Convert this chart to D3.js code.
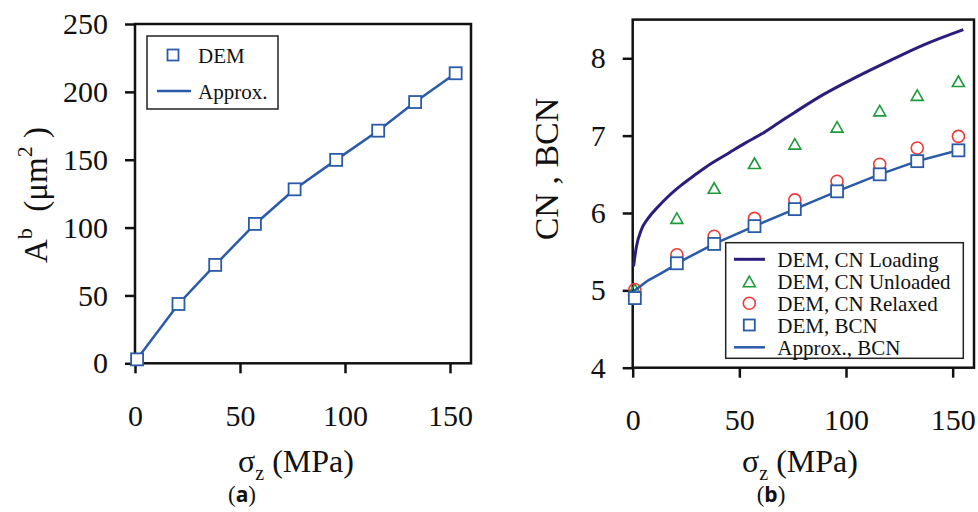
<!DOCTYPE html>
<html><head><meta charset="utf-8">
<script src="https://cdn.jsdelivr.net/npm/d3@7"></script>
<style>
html,body{margin:0;padding:0;background:#fff;}
svg{display:block;font-family:"Liberation Serif","Times New Roman",serif;}
</style></head>
<body>
<svg id="chart" width="978" height="512"></svg>
<script>
// ---- data ----
const sigma = [1, 20.7, 38.2, 57.1, 76, 95.8, 115.8, 133.4, 152.7];
const areaDEM = [2.9, 43.7, 72.5, 102.7, 128.2, 149.9, 171.4, 192.5, 213.7];
const areaApprox = [3.2, 43.7, 72.5, 102.5, 128.2, 149.9, 171.4, 192.5, 213.7];
const xTicks = [0, 50, 100, 150];
const areaTicks = [0, 50, 100, 150, 200, 250];
const cnTicks = [4, 5, 6, 7, 8];

const cnUnloaded = [5.01, 5.93, 6.32, 6.64, 6.89, 7.11, 7.32, 7.52, 7.70];
const cnRelaxed  = [5.01, 5.46, 5.70, 5.93, 6.17, 6.41, 6.63, 6.84, 6.99];
const bcnDEM     = [4.90, 5.35, 5.60, 5.83, 6.05, 6.28, 6.50, 6.67, 6.81];
const loadSigma = [0.4, 1.7, 4.0, 7.2, 11.9, 16.5, 22.8, 29.1, 36.8, 44.7, 52.5, 60.3, 68.1, 75.9, 89.3, 105, 120.6, 136.2, 155];
const loadCN    = [5.31, 5.56, 5.78, 5.93, 6.08, 6.21, 6.36, 6.49, 6.64, 6.77, 6.90, 7.02, 7.16, 7.30, 7.53, 7.76, 7.97, 8.17, 8.37];
const approxSigma = [0, 3.4, 7.3, 12, 18.3, 20.7, 38.2, 57.1, 76, 95.8, 115.8, 133.4, 152.7];
const approxBCN   = [4.98, 5.05, 5.13, 5.20, 5.30, 5.35, 5.60, 5.83, 6.05, 6.28, 6.50, 6.67, 6.81];

const legendA = ["DEM", "Approx."];
const legendB = ["DEM, CN Loading", "DEM, CN Unloaded", "DEM, CN Relaxed", "DEM, BCN", "Approx., BCN"];

// ---- styles ----
const BLUE = "#2a5aa8", NAVY = "#2b1d7c", GREEN = "#1f9a3b", RED = "#f03a36";
const SERIF = "'Liberation Serif', 'Times New Roman', serif";
const svg = d3.select("#chart");

function frameAxes(g, x, y, xT, yT) {
  const [x0, x1] = x.range(), [y0, y1] = y.range();
  const style = a => {
    a.attr("font-family", SERIF);
    a.select(".domain").remove();
    a.selectAll("line").attr("stroke","#111").attr("stroke-width",2.5);
    a.selectAll("text").attr("font-size",30).attr("fill","#111").style("font-family", SERIF);
  };
  g.append("g").attr("transform", `translate(0,${y0})`)
    .call(d3.axisBottom(x).tickValues(xT).tickSize(10).tickPadding(31).tickFormat(d3.format("d")))
    .call(style);
  g.append("g").attr("transform", `translate(${x0},0)`)
    .call(d3.axisLeft(y).tickValues(yT).tickSize(10).tickPadding(17).tickFormat(d3.format("d")))
    .call(style);
  g.append("rect").attr("x", x0).attr("y", y1).attr("width", x1 - x0).attr("height", y0 - y1)
    .attr("fill","none").attr("stroke","#111").attr("stroke-width",2.5);
}
function squares(g, pts, size) {
  g.selectAll(null).data(pts).enter().append("rect")
    .attr("x", d => d[0] - size/2).attr("y", d => d[1] - size/2)
    .attr("width", size).attr("height", size)
    .attr("fill","#fff").attr("stroke",BLUE).attr("stroke-width",1.8);
}
function xTitle(cx) {
  const t = svg.append("text").attr("x", cx).attr("y", 472).attr("text-anchor","middle")
    .attr("font-size", 32).attr("fill","#111");
  t.append("tspan").text("σ");
  t.append("tspan").attr("font-size", 20).attr("dy", 8).text("z");
  t.append("tspan").attr("dy", -8).text(" (MPa)");
}
function panelLabel(cx, letter) {
  const t = svg.append("text").attr("x", cx).attr("y", 502).attr("text-anchor","middle")
    .attr("font-size", 23).attr("fill","#111");
  t.append("tspan").text("(");
  t.append("tspan").attr("font-weight","bold").attr("font-family","Open Sans").attr("font-size",21).text(letter);
  t.append("tspan").text(")");
}

// ---- panel (a) ----
const xa = d3.scaleLinear().domain([0, 160]).range([135, 471]);
const ya = d3.scaleLinear().domain([0, 250]).range([363.3, 24]);
const ga = svg.append("g");
frameAxes(ga, xa, ya, xTicks, areaTicks);
ga.append("path").datum(sigma.map((s, i) => [xa(s), ya(areaApprox[i])]))
  .attr("d", d3.line()).attr("fill","none").attr("stroke",BLUE).attr("stroke-width",2.5);
squares(ga, sigma.map((s, i) => [xa(s), ya(areaDEM[i])]), 12);
// legend a
ga.append("rect").attr("x",147).attr("y",36).attr("width",131).attr("height",73)
  .attr("fill","#fff").attr("stroke","#222").attr("stroke-width",1.5);
squares(ga, [[173, 55]], 11);
ga.append("line").attr("x1",157).attr("x2",191).attr("y1",91).attr("y2",91).attr("stroke",BLUE).attr("stroke-width",2.5);
ga.selectAll(null).data(legendA).enter().append("text")
  .attr("x",198).attr("y",(d,i)=> i ? 98.5 : 62.5).attr("font-size",21).attr("fill","#111").text(d=>d);
// y title a
{
  const t = svg.append("text").attr("transform","translate(47,195) rotate(-90)").attr("text-anchor","middle")
    .attr("font-size", 33).attr("fill","#111");
  t.append("tspan").text("A");
  t.append("tspan").attr("font-size", 22).attr("dy", -15).text("b");
  t.append("tspan").attr("dy", 15).text("\u00a0\u00a0(μm");
  t.append("tspan").attr("font-size", 22).attr("dy", -15).text("2");
  t.append("tspan").attr("dy", 15).text("\u00a0)");
}
xTitle(296);
panelLabel(242, "a");

// ---- panel (b) ----
const xb = d3.scaleLinear().domain([0, 160]).range([632.7, 974]);
const yb = d3.scaleLinear().domain([4, 8.5]).range([367.7, 19.6]);
const gb = svg.append("g");
frameAxes(gb, xb, yb, xTicks, cnTicks);
gb.append("path").datum(loadSigma.map((s, i) => [xb(s), yb(loadCN[i])]))
  .attr("d", d3.line().curve(d3.curveMonotoneX)).attr("fill","none").attr("stroke",NAVY).attr("stroke-width",3);
function tri(g, pts) {
  g.selectAll(null).data(pts).enter().append("path")
    .attr("d", d => `M${d[0]},${d[1]-5.5}L${d[0]+6},${d[1]+5}L${d[0]-6},${d[1]+5}Z`)
    .attr("fill","none").attr("stroke",GREEN).attr("stroke-width",1.6);
}
function circ(g, pts) {
  g.selectAll(null).data(pts).enter().append("circle")
    .attr("cx", d => d[0]).attr("cy", d => d[1]).attr("r", 6)
    .attr("fill","none").attr("stroke",RED).attr("stroke-width",1.6);
}
tri(gb, sigma.map((s, i) => [xb(s), yb(cnUnloaded[i])]));
circ(gb, sigma.map((s, i) => [xb(s), yb(cnRelaxed[i])]));
gb.append("path").datum(approxSigma.map((s, i) => [xb(s), yb(approxBCN[i])]))
  .attr("d", d3.line()).attr("fill","none").attr("stroke",BLUE).attr("stroke-width",2.5);
squares(gb, sigma.map((s, i) => [xb(s), yb(bcnDEM[i])]), 12);
// legend b
gb.append("rect").attr("x",725.7).attr("y",242.7).attr("width",237.6).attr("height",115.6)
  .attr("fill","#fff").attr("stroke","#222").attr("stroke-width",1.5);
const rowsB = [259.3, 281.7, 303.3, 325, 347.3];
gb.append("line").attr("x1",734).attr("x2",765).attr("y1",rowsB[0]).attr("y2",rowsB[0]).attr("stroke",NAVY).attr("stroke-width",3);
tri(gb, [[749.3, rowsB[1]]]);
circ(gb, [[749.3, rowsB[2]]]);
squares(gb, [[749.3, rowsB[3]]], 11);
gb.append("line").attr("x1",734).attr("x2",765).attr("y1",rowsB[4]).attr("y2",rowsB[4]).attr("stroke",BLUE).attr("stroke-width",2.5);
gb.selectAll(null).data(legendB).enter().append("text")
  .attr("x",777.3).attr("y",(d,i)=> rowsB[i] + 7.5).attr("font-size",21).attr("fill","#111").text(d=>d);
svg.append("text").attr("transform","translate(558,169) rotate(-90)").attr("text-anchor","middle")
  .attr("font-size", 34).attr("fill","#111").text("CN , BCN");
xTitle(800);
panelLabel(771, "b");
</script>
</body></html>
